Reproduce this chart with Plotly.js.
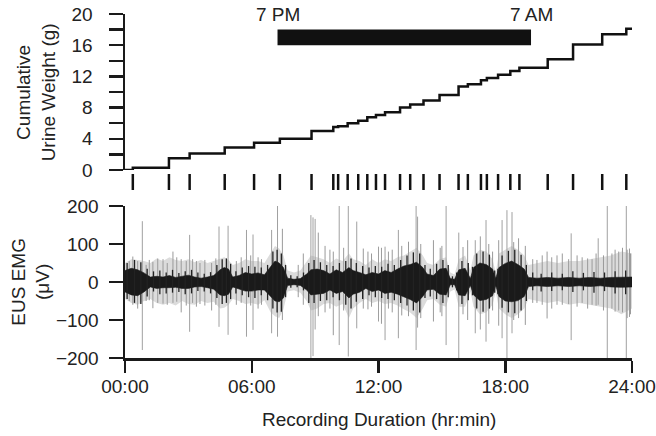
<!DOCTYPE html>
<html>
<head>
<meta charset="utf-8">
<script src="https://cdn.plot.ly/plotly-3.0.1.min.js"></script>
<style>
  html, body { margin: 0; padding: 0; background: #fff; }
  #chart { width: 656px; height: 436px; }
</style>
</head>
<body>
<div id="chart"></div>
<script>
// void events (hours from start) and cumulative urine weight after each void (g)
var voidHours = [0.37, 2.08, 3.06, 4.72, 6.11, 7.33, 8.83, 9.86, 10.09, 10.54,
  11.04, 11.47, 11.88, 12.31, 13.02, 13.50, 14.13, 14.89, 15.79, 16.23,
  16.85, 17.13, 17.66, 18.24, 18.67, 20.01, 21.21, 22.59, 23.73];
var cumWeight = [0.3, 1.5, 2.1, 2.9, 3.5, 4.0, 5.0, 5.5, 5.6, 6.0,
  6.3, 6.75, 7.05, 7.4, 8.0, 8.4, 8.9, 9.6, 10.7, 11.0,
  11.5, 11.8, 12.2, 12.7, 13.1, 14.2, 16.1, 17.4, 18.1];

// dark period, 7 PM to 7 AM
var night = [7.22, 19.22];
var nightLabels = ['7 PM', '7 AM'];

// EUS EMG: dense core envelope and grey fringe envelope (uV)
var emgT = [0, 0.3, 0.6, 0.9, 1.2, 1.5, 1.8, 2.1, 2.4, 2.7, 3.0, 3.3, 3.6, 3.9, 4.2,
  4.5, 4.7, 4.9, 5.1, 5.4, 5.7, 6.0, 6.3, 6.6, 6.9, 7.1, 7.3, 7.5, 7.7, 8.0,
  8.3, 8.6, 8.8, 9.1, 9.4, 9.7, 10.0, 10.3, 10.6, 10.8, 11.1, 11.4, 11.7, 12.0,
  12.3, 12.6, 12.9, 13.2, 13.5, 13.8, 14.1, 14.3, 14.6, 14.9, 15.2, 15.4, 15.6,
  15.8, 16.1, 16.35, 16.5, 16.8, 17.1, 17.4, 17.55, 17.7, 18.0, 18.3, 18.6, 18.9,
  19.1, 19.5, 20.0, 20.5, 21.0, 21.5, 22.0, 22.5, 23.0, 23.5, 24.0];
var coreHi = [30, 36, 32, 24, 13, 15, 13, 17, 12, 15, 18, 13, 10, 13, 17,
  32, 38, 34, 13, 17, 25, 21, 24, 19, 42, 55, 50, 38, 10, 7,
  9, 21, 32, 34, 30, 21, 32, 25, 38, 30, 25, 19, 25, 21,
  30, 25, 34, 42, 46, 52, 38, 21, 17, 34, 36, 9, 7,
  32, 36, 9, 38, 50, 46, 34, 9, 38, 49, 55, 46, 34,
  12, 10, 12, 10, 12, 10, 12, 10, 12, 13, 13];
var coreLo = [-26, -34, -36, -26, -13, -17, -15, -15, -14, -17, -17, -13, -12, -15, -19,
  -34, -36, -32, -13, -19, -24, -24, -21, -21, -38, -50, -52, -42, -9, -7,
  -9, -21, -34, -32, -30, -21, -30, -25, -42, -32, -27, -17, -25, -21,
  -30, -27, -32, -38, -46, -55, -38, -21, -19, -32, -34, -7, -7,
  -34, -36, -9, -34, -49, -46, -36, -9, -38, -50, -52, -49, -38,
  -12, -10, -12, -10, -12, -10, -12, -10, -13, -14, -13];
var fringeHi = [50, 60, 58, 55, 50, 62, 55, 65, 58, 55, 60, 52, 58, 50, 55,
  60, 65, 58, 45, 50, 60, 55, 55, 50, 75, 95, 88, 70, 30, 25,
  30, 55, 70, 65, 60, 50, 62, 55, 75, 60, 55, 45, 60, 50,
  60, 55, 65, 70, 80, 90, 70, 50, 45, 60, 65, 25, 20,
  60, 70, 30, 70, 85, 80, 60, 25, 75, 85, 95, 85, 70,
  45, 50, 55, 50, 55, 55, 60, 65, 70, 80, 75];
var fringeLo = [-45, -55, -60, -50, -45, -55, -60, -55, -62, -50, -58, -60, -50, -55, -52,
  -70, -68, -60, -45, -50, -58, -55, -60, -48, -80, -90, -95, -72, -25, -22,
  -28, -50, -75, -70, -58, -55, -65, -58, -95, -70, -55, -45, -55, -50,
  -58, -55, -62, -72, -80, -95, -70, -48, -45, -60, -65, -25, -20,
  -65, -65, -25, -65, -85, -80, -60, -25, -70, -85, -95, -85, -70,
  -45, -50, -55, -50, -60, -55, -60, -65, -70, -85, -70];

// dark bursts poking out of the core
var darkT = [0.1, 0.45, 0.75, 1.05, 1.35, 1.65, 1.95, 2.25, 2.55, 2.85, 3.15, 3.45, 3.75,
  4.05, 4.35, 4.6, 4.8, 5.0, 5.25, 5.55, 5.85, 6.15, 6.45, 6.75, 7.0, 7.2, 7.4, 7.6,
  7.85, 8.15, 8.45, 8.7, 8.95, 9.25, 9.55, 9.85, 10.15, 10.45, 10.7, 10.95, 11.25,
  11.55, 11.85, 12.15, 12.45, 12.75, 13.05, 13.35, 13.65, 13.95, 14.2, 14.45, 14.75,
  15.05, 15.3, 15.5, 15.7, 15.95, 16.25, 16.45, 16.65, 16.95, 17.25, 17.5, 17.65,
  17.85, 18.15, 18.45, 18.75, 19.0, 19.3, 19.7, 20.2, 20.7, 21.2, 21.7, 22.2, 22.7,
  23.2, 23.7];
var darkHi = [50, 58, 52, 35, 28, 30, 25, 32, 24, 28, 32, 25, 22,
  26, 45, 60, 62, 48, 28, 38, 42, 40, 38, 45, 80, 85, 75, 45,
  18, 15, 25, 50, 58, 52, 45, 42, 50, 55, 62, 50, 42,
  38, 42, 40, 48, 45, 58, 70, 78, 75, 45, 35, 48,
  58, 45, 15, 25, 55, 50, 40, 75, 80, 72, 30, 35,
  70, 82, 85, 72, 45, 25, 22, 25, 22, 28, 24, 26, 25,
  28, 30];
var darkLo = [-45, -55, -58, -38, -25, -32, -30, -28, -26, -32, -30, -24, -25,
  -30, -42, -58, -55, -45, -30, -35, -40, -42, -35, -48, -70, -80, -78, -40,
  -15, -14, -22, -55, -55, -50, -48, -40, -48, -60, -70, -52, -45,
  -35, -40, -42, -45, -48, -55, -62, -75, -80, -42, -38, -45,
  -55, -40, -14, -22, -58, -48, -35, -70, -78, -70, -28, -32,
  -68, -80, -82, -75, -50, -22, -25, -24, -22, -26, -22, -28, -24,
  -30, -32];

// single grey excursions beyond the fringe
var hairT = [0.37, 0.6, 1.0, 1.32, 1.8, 2.27, 2.66, 3.38, 3.78, 4.1, 5.27, 6.46, 7.45,
  8.44, 9.15, 9.47, 9.86, 11.28, 11.67, 12.14, 12.47, 13.42, 14.6, 14.92, 16.22,
  16.82, 17.22, 17.69, 18.63, 18.95, 19.5, 19.98, 20.45, 21.64, 22.11, 23.05,
  23.37, 23.77, 23.93,
  0.2, 1.15, 1.55, 2.0, 2.45, 2.9, 3.2, 3.55, 4.3, 5.5, 5.95, 6.3, 8.2, 9.7, 10.35,
  11.5, 12.65, 13.1, 14.0, 15.0, 16.0, 17.4, 18.4, 19.3, 19.75, 20.2, 20.7, 21.0,
  21.4, 21.9, 22.3, 22.65, 23.2, 23.55, 23.88];
var hairHi = [67, 55, 45, 53, 60, 80, 60, 55, 58, 50, 55, 60, 140,
  75, 130, 95, 80, 88, 75, 90, 80, 106, 110, 90, 110,
  120, 100, 110, 115, 95, 58, 80, 70, 65, 60, 75,
  80, 85, 75,
  55, 58, 62, 50, 65, 55, 60, 50, 62, 65, 70, 65, 45, 85, 90,
  80, 85, 95, 100, 95, 92, 80, 105, 60, 70, 65, 75, 60,
  70, 62, 75, 70, 85, 90, 88];
var hairLo = [-60, -70, -50, -69, -57, -55, -80, -65, -62, -75, -60, -60, -100,
  -60, -90, -80, -140, -70, -65, -110, -70, -90, -104, -80, -100,
  -125, -110, -115, -95, -113, -55, -96, -60, -55, -60, -70,
  -75, -95, -85,
  -50, -48, -55, -60, -52, -62, -55, -58, -60, -55, -62, -70, -40, -70, -75,
  -72, -80, -88, -95, -90, -85, -75, -100, -55, -60, -70, -60, -58,
  -65, -70, -62, -75, -78, -80, -92];

// tall spikes
var spikeT = [0.82, 3.06, 4.45, 4.88, 5.75, 6.06, 6.94, 7.22, 8.8, 8.9, 9.0, 10.14,
  10.57, 10.97, 12.0, 12.31, 12.94, 13.78, 13.85, 15.2, 15.8, 16.58, 17.09,
  17.85, 18.08, 18.32, 21.12, 22.4, 22.83, 23.73];
var spikeHi = [160, 124, 146, 148, 137, 125, 137, 200, 176, 170, 166, 200,
  200, 159, 93, 93, 137, 200, 172, 200, 130, 110, 163,
  163, 189, 184, 128, 115, 200, 200];
var spikeLo = [-179, -131, -118, -139, -144, -126, -135, -144, -200, -195, -125, -166,
  -196, -122, -104, -153, -148, -179, -120, -166, -200, -135, -157,
  -148, -200, -135, -153, -60, -200, -200];

function segs(t, hi, lo) {
  var x = [], y = [];
  for (var i = 0; i < t.length; i++) {
    x.push(t[i], t[i], null);
    y.push(hi[i], lo[i], null);
  }
  return {x: x, y: y};
}
function band(t, hi, lo) {
  return {
    x: t.concat(t.slice().reverse()),
    y: hi.concat(lo.slice().reverse())
  };
}

var stepX = [0].concat(voidHours).concat([24]);
var stepY = [0].concat(cumWeight).concat([cumWeight[cumWeight.length - 1]]);

var markX = [], markY = [];
voidHours.forEach(function (h) { markX.push(h, h, null); markY.push(0, 1, null); });

var fr = band(emgT, fringeHi, fringeLo);
var co = band(emgT, coreHi, coreLo);
var hs = segs(hairT, hairHi, hairLo);
var dk = segs(darkT, darkHi, darkLo);
var sp = segs(spikeT, spikeHi, spikeLo);

var data = [
  {x: stepX, y: stepY, xaxis: 'x', yaxis: 'y', type: 'scatter', mode: 'lines',
   line: {shape: 'hv', color: '#111', width: 2.5}},
  {x: markX, y: markY, xaxis: 'x', yaxis: 'y3', type: 'scatter', mode: 'lines',
   line: {color: '#111', width: 2.5}},
  {x: fr.x, y: fr.y, xaxis: 'x', yaxis: 'y2', type: 'scatter', mode: 'lines',
   fill: 'toself', fillcolor: '#dcdcdc', line: {color: '#dcdcdc', width: 0}},
  {x: sp.x, y: sp.y, xaxis: 'x', yaxis: 'y2', type: 'scatter', mode: 'lines',
   line: {color: '#a0a0a0', width: 1}},
  {x: hs.x, y: hs.y, xaxis: 'x', yaxis: 'y2', type: 'scatter', mode: 'lines',
   line: {color: '#9a9a9a', width: 1}},
  {x: co.x, y: co.y, xaxis: 'x', yaxis: 'y2', type: 'scatter', mode: 'lines',
   fill: 'toself', fillcolor: '#1a1a1a', line: {color: '#1a1a1a', width: 0.6}},
  {x: dk.x, y: dk.y, xaxis: 'x', yaxis: 'y2', type: 'scatter', mode: 'lines',
   line: {color: '#222', width: 1.3}}
];

var font = {family: 'Liberation Sans, Arial, sans-serif', size: 19, color: '#222'};
var axisCommon = {
  showline: true, linewidth: 2.5, linecolor: '#1a1a1a',
  ticks: 'outside', tickwidth: 2.5, tickcolor: '#1a1a1a',
  showgrid: false, zeroline: false, fixedrange: true
};

var layout = {
  width: 656, height: 436,
  margin: {l: 125, r: 24, t: 14, b: 78},
  paper_bgcolor: '#fff', plot_bgcolor: '#fff',
  font: font, showlegend: false, hovermode: false,
  xaxis: Object.assign({}, axisCommon, {
    range: [0, 24], anchor: 'y2',
    tickvals: [0, 6, 12, 18, 24],
    ticktext: ['00:00', '06:00', '12:00', '18:00', '24:00'],
    ticklen: 12, ticklabelstandoff: -2
  }),
  yaxis: Object.assign({}, axisCommon, {
    domain: [0.5465, 1], range: [0, 20], anchor: 'x',
    tickvals: [0, 4, 8, 12, 16, 20], ticklen: 14, ticklabelstandoff: 12,
    minor: {tickvals: [2, 6, 10, 14, 18], ticks: 'outside', ticklen: 14,
            tickwidth: 2.5, tickcolor: '#1a1a1a'}
  }),
  yaxis2: Object.assign({}, axisCommon, {
    domain: [0, 0.4419], range: [-200, 200], anchor: 'x',
    tickvals: [-200, -100, 0, 100, 200], ticklen: 14, ticklabelstandoff: 6
  }),
  yaxis3: {domain: [0.4884, 0.5349], range: [0, 1], anchor: 'x', visible: false, fixedrange: true},
  shapes: [{
    type: 'rect', xref: 'x', yref: 'y',
    x0: night[0], x1: night[1], y0: 16, y1: 18,
    fillcolor: '#111', line: {width: 0}
  }],
  annotations: [
    {x: night[0], y: 20, xref: 'x', yref: 'y', text: nightLabels[0], showarrow: false,
     xanchor: 'center', yanchor: 'middle', font: font},
    {x: night[1], y: 20, xref: 'x', yref: 'y', text: nightLabels[1], showarrow: false,
     xanchor: 'center', yanchor: 'middle', font: font},
    {x: -0.175, y: 0.773, xref: 'paper', yref: 'paper', textangle: -90,
     xanchor: 'center', yanchor: 'middle',
     text: 'Cumulative<br>Urine Weight (g)', showarrow: false, font: font},
    {x: -0.186, y: 0.221, xref: 'paper', yref: 'paper', textangle: -90,
     xanchor: 'center', yanchor: 'middle',
     text: 'EUS EMG<br>(μV)', showarrow: false, font: font},
    {x: 0.5, y: -0.18, xref: 'paper', yref: 'paper', xanchor: 'center', yanchor: 'middle',
     text: 'Recording Duration (hr:min)', showarrow: false, font: font}
  ]
};

Plotly.newPlot('chart', data, layout, {displayModeBar: false, staticPlot: true});
</script>
</body>
</html>
